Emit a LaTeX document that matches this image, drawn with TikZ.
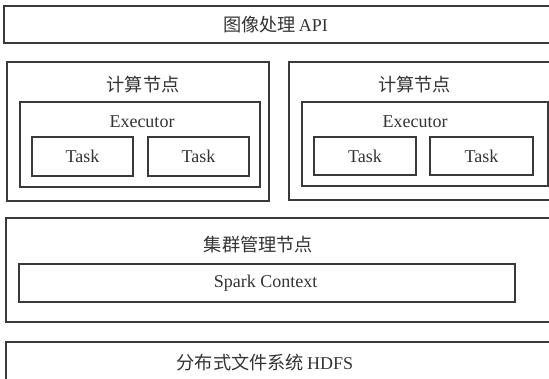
\documentclass[tikz,border=0pt]{standalone}
\usepackage{fontspec}
\setmainfont{Liberation Serif}
\newfontfamily\cjk{Noto Sans CJK SC}
\definecolor{linecol}{HTML}{3A3A3A}
\definecolor{textcol}{HTML}{333333}
\newcommand{\latinsize}{\fontsize{18}{21}\selectfont}
\newcommand{\hanzi}[1]{{\cjk\fontsize{18.2}{21}\selectfont #1}}
\tikzset{
  box/.style={draw=linecol, line width=1.1pt, rectangle, inner sep=0pt, outer sep=0pt, anchor=north west},
  label/.style={text=textcol, inner sep=0pt, font=\latinsize, anchor=center},
}
% \placebox{name}{x1}{y1}{x2}{y2}: a framed box from its top-left to bottom-right corner
\newcommand{\placebox}[5]{%
  \pgfmathsetmacro{\bw}{#4-#2}\pgfmathsetmacro{\bh}{#5-#3}%
  \node[box, minimum width=\bw pt, minimum height=\bh pt] (#1) at (#2,#3) {};}
\begin{document}
\begin{tikzpicture}[x=1pt, y=-1pt]
  \useasboundingbox (0,0) rectangle (549,378);
  \clip (0,0) rectangle (549,378);

  % application layer
  \placebox{api}{4}{6}{556}{43}
  \node[label] (apit) at (275.5,25) {\hanzi{图像处理}\,API};

  % first compute node
  \placebox{cA}{7}{62}{269}{201}
  \node[label] (cAt) at (143,85) {\hanzi{计算节点}};
  \placebox{eA}{20}{102}{260}{187}
  \node[label] (eAt) at (142,122) {Executor};
  \placebox{tA1}{32}{137}{133}{176}
  \node[label] (tA1t) at (tA1.center) {Task};
  \placebox{tA2}{148}{137}{249}{176}
  \node[label] (tA2t) at (tA2.center) {Task};

  % second compute node
  \placebox{cB}{289}{62}{558}{200}
  \node[label] (cBt) at (414.5,85) {\hanzi{计算节点}};
  \placebox{eB}{302}{102}{548}{186}
  \node[label] (eBt) at (415,122) {Executor};
  \placebox{tB1}{314}{137}{416}{175}
  \node[label] (tB1t) at (tB1.center) {Task};
  \placebox{tB2}{430}{137}{533}{175}
  \node[label] (tB2t) at (tB2.center) {Task};

  % cluster manager
  \placebox{cm}{6}{218}{558}{322}
  \node[label] (cmt) at (258.5,245) {\hanzi{集群管理节点}};
  \placebox{sc}{19}{264}{515}{302}
  \node[label] (sct) at (265.5,283) {Spark Context};

  % distributed storage
  \placebox{fs}{6}{342}{558}{390}
  \node[label] (fst) at (265,363) {\hanzi{分布式文件系统}\,HDFS};
\end{tikzpicture}
\end{document}
